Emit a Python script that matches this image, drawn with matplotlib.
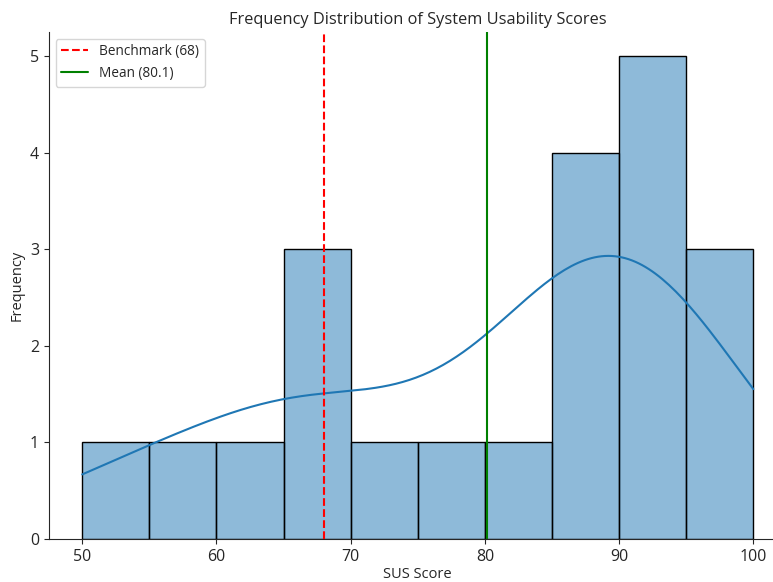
import matplotlib
matplotlib.use("Agg")
import matplotlib.pyplot as plt
import seaborn as sns
import numpy as np

scores = [50, 55, 60, 65, 67.5, 67.5, 70, 77.5, 80,
          85, 87.5, 87.5, 87.5,
          90, 90, 90, 90, 92.5,
          95, 95, 100]
benchmark = 68
bin_edges = [50, 55, 60, 65, 70, 75, 80, 85, 90, 95, 100]
x_ticks = [50, 60, 70, 80, 90, 100]
y_ticks = [0, 1, 2, 3, 4, 5]

sns.set_style("ticks")
plt.rcParams['font.family'] = ['Open Sans', 'DejaVu Sans']

fig = plt.figure(figsize=(7.73, 5.82), dpi=100)
ax = fig.add_axes([0.063, 0.074, 0.955, 0.871])

sns.histplot(scores, bins=bin_edges, kde=True, ax=ax,
             color="#1f77b4", edgecolor="black", linewidth=1.0, alpha=0.5)
ax.lines[0].set_color("#1f77b4")
ax.lines[0].set_linewidth(1.5)

mean_val = np.mean(scores)
ax.axvline(benchmark, color="red", linestyle="--", linewidth=1.5,
           label=f"Benchmark ({benchmark})")
ax.axvline(mean_val, color="green", linestyle="-", linewidth=1.5,
           label=f"Mean ({mean_val:.1f})")

ax.set_xticks(x_ticks)
ax.set_yticks(y_ticks)
ax.tick_params(labelsize=11.5)
ax.set_title("Frequency Distribution of System Usability Scores", fontsize=11.8)
ax.set_xlabel("SUS Score", fontsize=10.5, labelpad=2)
ax.set_ylabel("Frequency", fontsize=10.5)
ax.legend(loc="upper left", fontsize=9.8)
sns.despine(ax=ax)

fig.savefig("out.png", dpi=100)
